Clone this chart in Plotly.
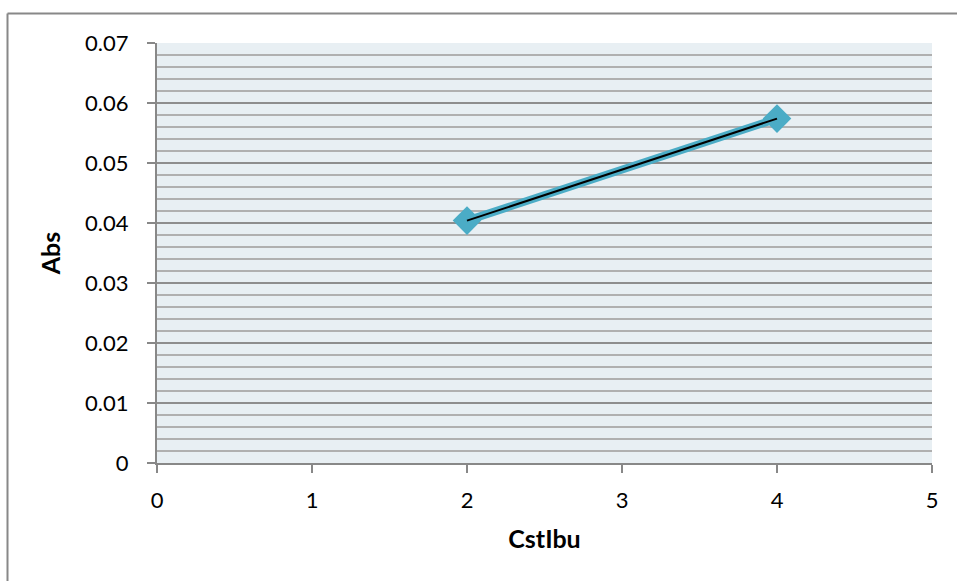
import numpy as np
import plotly.graph_objects as go

# Calibration data: ibuprofen concentration vs absorbance
cst_ibu = [2, 4]
absorbance = [0.0404, 0.0574]

x_ticks = [0, 1, 2, 3, 4, 5]
y_ticks = [0, 0.01, 0.02, 0.03, 0.04, 0.05, 0.06, 0.07]
y_tick_text = ["0", "0.01", "0.02", "0.03", "0.04", "0.05", "0.06", "0.07"]

# Linear trendline through the measured points
slope, intercept = np.polyfit(cst_ibu, absorbance, 1)
trend_x = np.array([min(cst_ibu), max(cst_ibu)])
trend_y = slope * trend_x + intercept

FONT = "Lato"
W, H = 957, 581
L, R, T, B = 157, 25, 43, 118

fig = go.Figure()
fig.add_trace(go.Scatter(
    x=cst_ibu, y=absorbance, mode="lines+markers",
    line=dict(color="#4BACC6", width=8),
    marker=dict(symbol="diamond", size=22, color="#4BACC6"),
    showlegend=False, hoverinfo="x+y",
))
fig.add_trace(go.Scatter(
    x=trend_x, y=trend_y, mode="lines",
    line=dict(color="#000000", width=2),
    showlegend=False, hoverinfo="skip",
))

pw, ph = W - L - R, H - T - B
def px_x(p):
    return (p - L) / pw
def px_y(p):
    return (H - B - p) / ph

# Chart-area frame: top and left edges
fig.add_shape(type="line", xref="paper", yref="paper",
              x0=px_x(7.5), y0=px_y(13.5), x1=px_x(W + 5), y1=px_y(13.5),
              line=dict(color="#888888", width=2))
fig.add_shape(type="line", xref="paper", yref="paper",
              x0=px_x(7.5), y0=px_y(13.5), x1=px_x(7.5), y1=px_y(H + 5),
              line=dict(color="#888888", width=2))

fig.update_layout(
    width=W, height=H,
    margin=dict(l=L, r=R, t=T, b=B),
    paper_bgcolor="white",
    plot_bgcolor="#E8EFF3",
    font=dict(family=FONT, size=22, color="#000000"),
    xaxis=dict(
        range=[0, 5], tickvals=x_ticks, showgrid=False, zeroline=False,
        showline=True, linecolor="#888888", linewidth=2,
        ticks="outside", ticklen=8, tickwidth=2, tickcolor="#888888",
        tickfont=dict(size=22), ticklabelstandoff=9,
        title=dict(text="<b>CstIbu</b>", font=dict(size=25), standoff=18),
    ),
    yaxis=dict(
        range=[0, 0.07], tickvals=y_ticks, ticktext=y_tick_text,
        showgrid=True, gridcolor="#8E8E8E", gridwidth=1.5, zeroline=False,
        showline=True, linecolor="#888888", linewidth=2,
        ticks="outside", ticklen=8, tickwidth=2, tickcolor="#888888",
        tickfont=dict(size=22), ticklabelstandoff=14,
        minor=dict(dtick=0.002, showgrid=True, gridcolor="#B0B0B0", gridwidth=1.5, ticks=""),
        title=dict(text="<b>Abs</b>", font=dict(size=25), standoff=17),
    ),
)

fig.write_html("out.html")
